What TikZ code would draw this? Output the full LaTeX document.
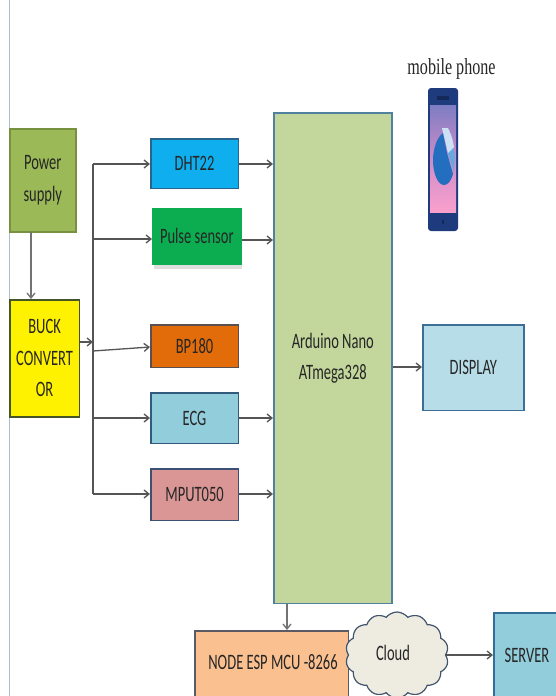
\documentclass[tikz,border=0pt]{standalone}
\usepackage{fontspec}
\setmainfont[FakeStretch=0.66]{Carlito}
\newfontfamily\capfont[FakeStretch=0.70]{Liberation Serif}
\usetikzlibrary{arrows.meta,shapes.symbols,shadows}
\definecolor{linec}{HTML}{555555}
\definecolor{cPower}{RGB}{155,185,87}
\definecolor{cPowerB}{RGB}{120,145,65}
\definecolor{cBuckB}{RGB}{70,85,40}
\definecolor{cDht}{RGB}{15,174,239}
\definecolor{cDhtB}{RGB}{40,100,140}
\definecolor{cPulse}{RGB}{11,173,80}
\definecolor{cBp}{RGB}{227,108,10}
\definecolor{cBpB}{RGB}{90,80,80}
\definecolor{cEcg}{RGB}{146,205,220}
\definecolor{cEcgB}{RGB}{50,90,125}
\definecolor{cMput}{RGB}{217,150,148}
\definecolor{cMputB}{RGB}{60,80,115}
\definecolor{cArd}{RGB}{195,214,155}
\definecolor{cArdB}{RGB}{80,130,160}
\definecolor{cDisp}{RGB}{183,221,232}
\definecolor{cDispB}{RGB}{60,110,150}
\definecolor{cNode}{RGB}{250,192,144}
\definecolor{cNodeB}{RGB}{90,90,100}
\definecolor{cServerB}{RGB}{50,110,150}
\definecolor{cCloud}{RGB}{238,236,225}
\definecolor{cCloudB}{RGB}{65,85,110}
\definecolor{cEdge}{RGB}{170,190,205}
\definecolor{cPh}{RGB}{30,60,125}
\definecolor{cPhD}{RGB}{20,40,90}
\definecolor{cScrT}{RGB}{125,125,195}
\definecolor{cScrM}{RGB}{205,140,200}
\definecolor{cScrB}{RGB}{250,160,205}
\definecolor{cPieA}{RGB}{35,110,190}
\definecolor{cPieB}{RGB}{100,170,225}
\definecolor{cPieC}{RGB}{205,225,245}
\tikzset{
 x=1pt,y=-1pt,
 blk/.style={draw=#1,line width=1.6pt,inner sep=0pt,align=center,anchor=north west,font=\fontsize{22}{31.5}\selectfont,text=black!85},
 lab/.style={font=\fontsize{22}{24}\selectfont,text=black!85},
 conn/.style={draw=linec,line width=1.3pt,-{Straight Barb[length=5pt,width=8pt]}},
 trunk/.style={draw=linec,line width=1.3pt},
}
\begin{document}
\begin{tikzpicture}
\useasboundingbox (0,0) rectangle (556,696);
\clip (0,0) rectangle (556,696);
\fill[white] (0,0) rectangle (556,696);
\coordinate (lt) at (9,0); \coordinate (lb) at (9,696);
\draw[draw=cEdge,line width=1pt] (lt) -- (lb);

\node[blk=cPowerB,fill=cPower,minimum width=66pt,minimum height=103pt] (power) at (9,128) {Power\\supply};
\node[blk=cBuckB,fill=yellow,minimum width=69.5pt,minimum height=117pt] (buck) at (9,299) {BUCK\\CONVERT\\OR};
\node[blk=cDhtB,fill=cDht,minimum width=87.5pt,minimum height=49.5pt] (dht) at (150,138) {DHT22};
\node[blk=cPulse,fill=cPulse,minimum width=88pt,minimum height=55pt,drop shadow={shadow xshift=1pt,shadow yshift=-5pt,fill=black!25}] (pulse) at (152,208) {Pulse sensor};
\node[blk=cBpB,fill=cBp,minimum width=87.5pt,minimum height=42.5pt] (bp) at (150,324) {BP180};
\node[blk=cEcgB,fill=cEcg,minimum width=87.5pt,minimum height=50.5pt] (ecg) at (150,392) {ECG};
\node[blk=cMputB,fill=cMput,minimum width=87.5pt,minimum height=51.5pt] (mput) at (150,468) {MPUT050};
\node[blk=cArdB,fill=cArd,minimum width=118pt,minimum height=490.5pt] (ard) at (273,112) {Arduino Nano\\ATmega328};
\node[blk=cDispB,fill=cDisp,minimum width=101pt,minimum height=85.5pt] (disp) at (422,324) {DISPLAY};
\node[blk=cNodeB,fill=cNode,minimum width=153.5pt,minimum height=80pt] (node) at (194,630) {};
\node[lab] (nodelab) at (273,662) {NODE ESP MCU -8266};
\node[blk=cServerB,fill=cEcg,minimum width=80pt,minimum height=100pt] (server) at (493,612) {};
\node[lab] (serverlab) at (527,655) {SERVER};
\node[cloud,cloud puffs=14,cloud puff arc=105,aspect=1.25,draw=cCloudB,line width=1.2pt,fill=cCloud,minimum width=103pt,minimum height=86pt,inner sep=0pt] (cloud) at (397,655) {};
\node[lab] (cloudlab) at (393,653) {Cloud};

% connectors
\coordinate (t1) at (93,164);
\coordinate (t2) at (93,239);
\coordinate (t3) at (93,351);
\coordinate (t3e) at (150,347);
\coordinate (t4) at (93,418);
\coordinate (t5) at (93,494);
\coordinate (tb) at (93,342);
\coordinate (ps) at (31,232);
\coordinate (pe) at (31,299);
\coordinate (y1) at (0,164);
\coordinate (y2) at (0,240);
\coordinate (y3) at (0,418);
\coordinate (y4) at (0,494);
\coordinate (y5) at (0,367);
\coordinate (y6) at (0,655);
\coordinate (x1) at (287,0);
\draw[trunk] (t1) -- (t5);
\draw[conn] (t1) -- (dht.west |- t1);
\draw[conn] (t2) -- (pulse.west |- t2);
\draw[conn] (t3) -- (t3e);
\draw[conn] (t4) -- (ecg.west |- t4);
\draw[conn] (t5) -- (mput.west |- t5);
\draw[conn] (buck.east |- tb) -- (tb);
\draw[conn,draw=black!55] (ps) -- (pe);
\draw[conn] (dht.east |- y1) -- (ard.west |- y1);
\draw[conn] (pulse.east |- y2) -- (ard.west |- y2);
\draw[conn] (ecg.east |- y3) -- (ard.west |- y3);
\draw[conn] (mput.east |- y4) -- (ard.west |- y4);
\draw[conn] (ard.east |- y5) -- (disp.west |- y5);
\draw[conn,draw=black!55] (ard.south -| x1) -- (node.north -| x1);
\draw[conn] (cloud.east |- y6) -- (server.west |- y6);

% phone
\node[font=\capfont\fontsize{23}{25}\selectfont,text=black!85] (cap) at (451.5,69) {mobile phone};
\fill[cPh,rounded corners=3pt] (428,88) rectangle (458,231);
\shade[top color=cScrT,bottom color=cScrB,middle color=cScrM] (430,105) rectangle (456,212);
\fill[cPhD] (437,96) rectangle (449,100);
\fill[cPhD] (442,220) rectangle (444,224);
\fill[cPieA] (443,133) .. controls (437,137) and (433,149) .. (433,160) .. controls (433,174) and (438,185) .. (444,185) .. controls (448,185) and (451,181) .. (453,174) -- (447,153) -- cycle;
\fill[cPieB] (447,137) .. controls (451,143) and (455,150) .. (455,158) -- (454,173) -- (448,153) -- cycle;
\fill[cPieC] (442,128) -- (448,128) .. controls (451,134) and (453,140) .. (454,147) -- (448,153) -- cycle;
\end{tikzpicture}
\end{document}
